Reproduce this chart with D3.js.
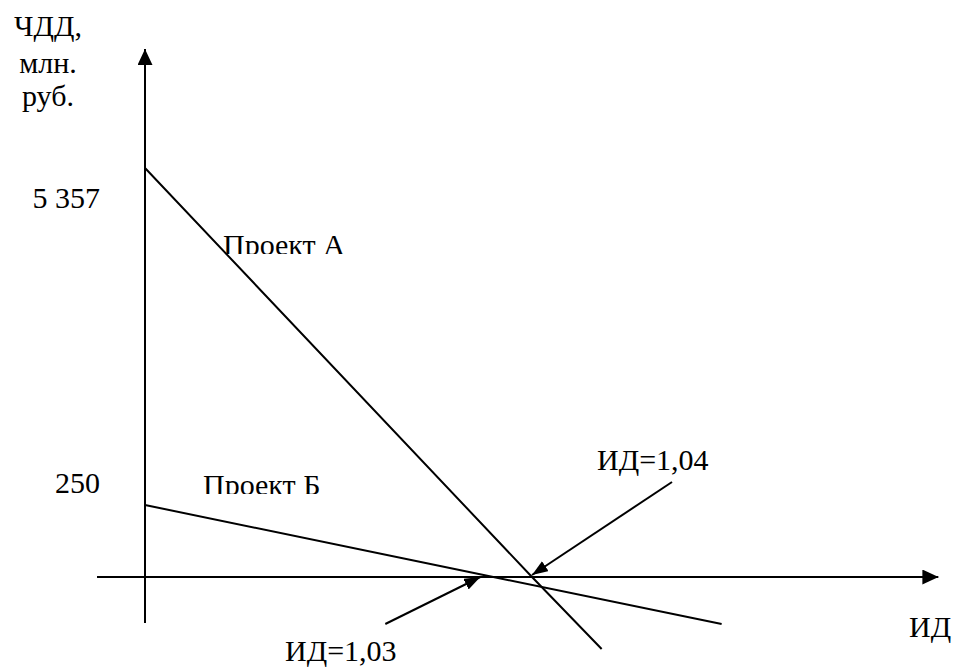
<!DOCTYPE html>
<html><head><meta charset="utf-8">
<script src="https://cdn.jsdelivr.net/npm/d3@7"></script>
<style>
html,body{margin:0;padding:0;background:#fff;}
#wrap{position:relative;width:956px;height:669px;overflow:hidden;}
#wrap svg{position:absolute;left:0;top:0;display:block;}
.lbl{position:absolute;white-space:nowrap;font-family:"Liberation Serif","Times New Roman",Tinos,serif;font-size:30px;line-height:1;color:#000;}
</style>
</head>
<body>
<div id="wrap"></div>
<script>
// ---- data (schematic: ИД on x, ЧДД on y) ----
const yTickValues = [5357, 250];
const yTickLabels = ["5 357", "250"];
const projectNames = ["Проект А", "Проект Б"];
const lineA_ID  = [0.94, 1.04, 1.058];
const lineA_NPV = [5357, 0, -250];
const lineB_ID  = [0.94, 1.03, 1.089];
const lineB_NPV = [250, 0, -163];
const crossID = [1.04, 1.03];
const crossLabels = ["ИД=1,04", "ИД=1,03"];
const xAxisExtent = [0.9276, 1.145];
const yAxisExtent = [-160, 7160];
const yTitle = ["ЧДД,", "млн.", "руб."];
const xTitle = "ИД";

const W = 956, H = 669;
const x = d3.scaleLinear().domain([0.94, 1.04]).range([145, 532]);
const y = d3.scaleLinear().domain([0, 250, 5357]).range([577, 505, 168]);

const wrap = d3.select("#wrap");
const svg = wrap.append("svg").attr("width", W).attr("height", H);
const defs = svg.append("defs");
function marker(id, len, wid){
  defs.append("marker").attr("id", id).attr("markerUnits","userSpaceOnUse")
    .attr("markerWidth", len).attr("markerHeight", wid)
    .attr("viewBox", `0 0 ${len} ${wid}`).attr("refX", len).attr("refY", wid/2)
    .attr("orient","auto")
    .append("path").attr("d", `M0,0L${len},${wid/2}L0,${wid}Z`).attr("fill","#000");
}
marker("axArrow", 16, 15);
marker("anArrow", 16, 12);
const sw = 2;

// axes
svg.append("line").attr("x1", x(xAxisExtent[0])).attr("x2", x(xAxisExtent[1]))
  .attr("y1", y(0)).attr("y2", y(0)).attr("stroke","#000").attr("stroke-width",sw)
  .attr("marker-end","url(#axArrow)");
svg.append("line").attr("x1", x(0.94)).attr("x2", x(0.94))
  .attr("y1", y(yAxisExtent[0])).attr("y2", y(yAxisExtent[1])).attr("stroke","#000").attr("stroke-width",sw)
  .attr("marker-end","url(#axArrow)");

// lines
const lineGen = d3.line().x(d => x(d[0])).y(d => y(d[1]));
[[lineA_ID, lineA_NPV],[lineB_ID, lineB_NPV]].forEach(([xs, ys]) => {
  svg.append("path").attr("d", lineGen(xs.map((v,i)=>[v, ys[i]])))
    .attr("fill","none").attr("stroke","#000").attr("stroke-width",sw);
});

// annotation arrows
const tipA = [x(crossID[0]), y(0) - 2];
svg.append("line").attr("x1", tipA[0] + 140).attr("y1", tipA[1] - 93)
  .attr("x2", tipA[0]).attr("y2", tipA[1]).attr("stroke","#000").attr("stroke-width",sw)
  .attr("marker-end","url(#anArrow)");
const tipB = [x(crossID[1]) - 13, y(0)];
svg.append("line").attr("x1", tipB[0] - 95).attr("y1", tipB[1] + 47)
  .attr("x2", tipB[0]).attr("y2", tipB[1]).attr("stroke","#000").attr("stroke-width",sw)
  .attr("marker-end","url(#anArrow)");

// HTML text labels; baseline-positioned via a measured ascent
const ASC = 27; // approx ascent (px) of a 30px serif line box with line-height 1
function label(text, px, baseline, anchor, clipBottom){
  const d = wrap.append("div").attr("class","lbl").text(text);
  const w = d.node().getBoundingClientRect().width;
  let left = px;
  if (anchor === "end") left = px - w;
  else if (anchor === "middle") left = px - w/2;
  d.style("left", left + "px").style("top", (baseline - ASC) + "px");
  if (clipBottom != null) {
    const keep = clipBottom - (baseline - ASC);
    d.style("clip-path", `inset(0 0 calc(100% - ${keep}px) 0)`);
  }
  return d;
}

yTickValues.forEach((v,i) => label(yTickLabels[i], 100, y(v) + (i===0 ? 42 : -10), "end"));
const yTitleY = [38, 75, 108];
yTitle.forEach((t,i) => label(t, 48, yTitleY[i], "middle"));
label(xTitle, 909, 639, "start");
const projPos = [{x:223, base:257, clip:254}, {x:203, base:497, clip:494}];
projectNames.forEach((t,i) => label(t, projPos[i].x, projPos[i].base, "start", projPos[i].clip));
label(crossLabels[0], 597, 472, "start");
label(crossLabels[1], 285, 663, "start");
</script>
</body></html>
